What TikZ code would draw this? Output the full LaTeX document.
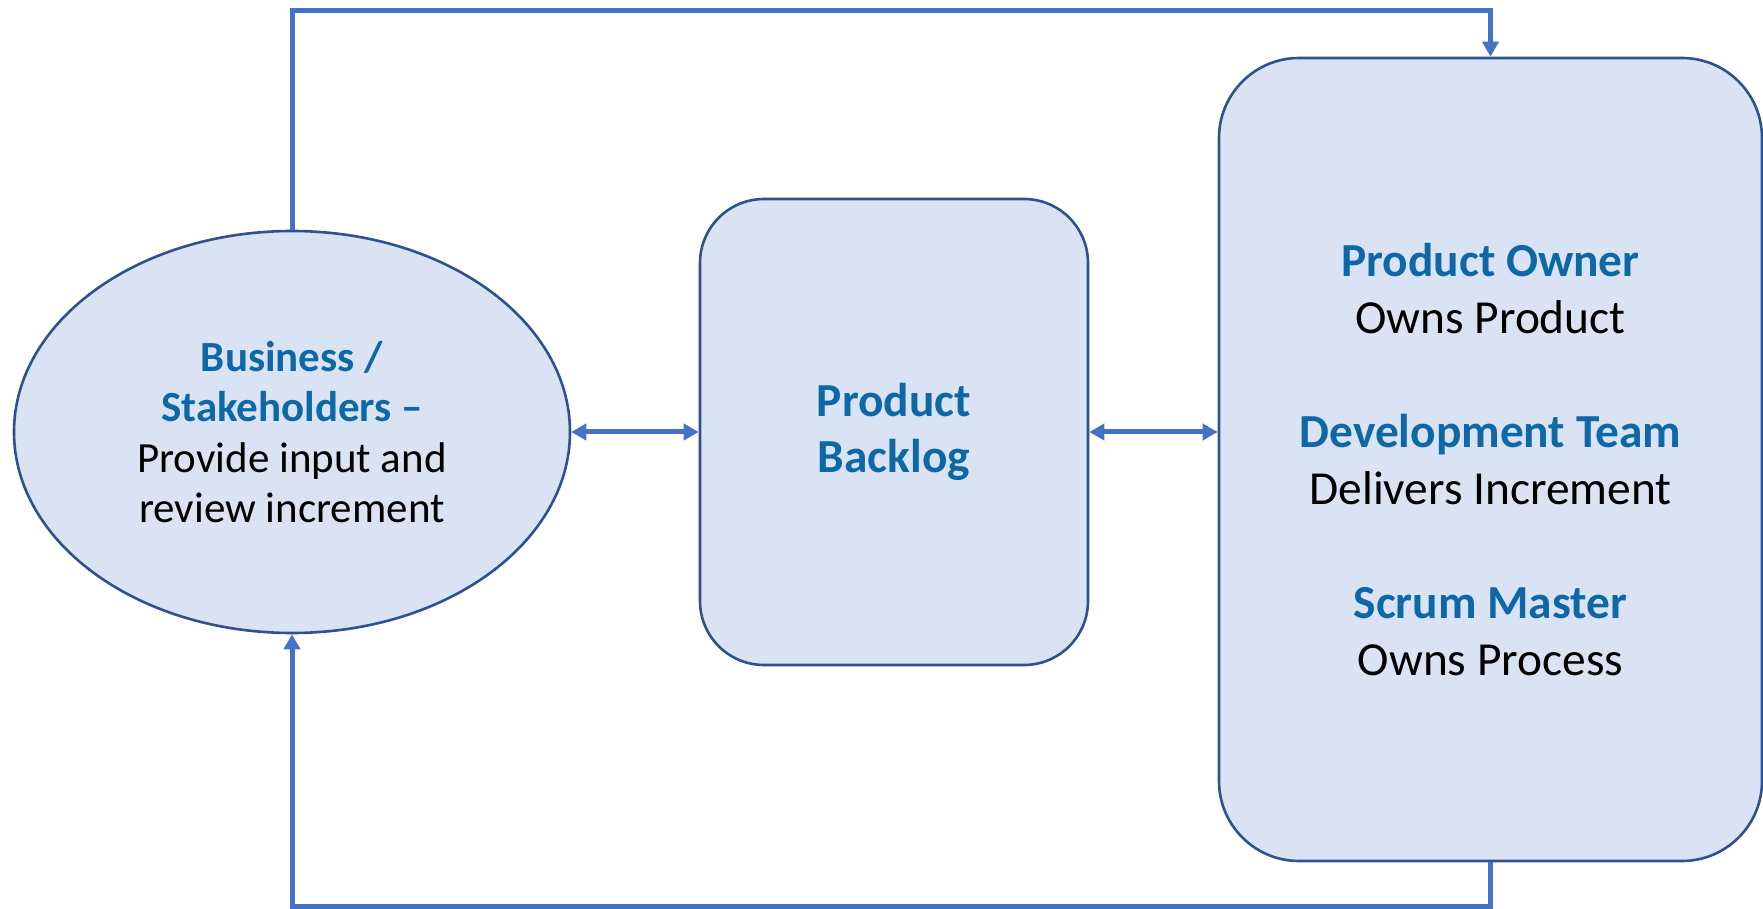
\documentclass[tikz,border=0pt]{standalone}
\usepackage{fontspec}
\setmainfont{Carlito}
\usetikzlibrary{shapes.geometric,arrows.meta}
\definecolor{boxfill}{HTML}{DAE3F3}
\definecolor{boxline}{HTML}{2F528F}
\definecolor{connblue}{HTML}{4472C4}
\definecolor{titleblue}{RGB}{14,104,166}
\tikzset{
  shapebox/.style={draw=boxline, fill=boxfill, line width=1.3pt, align=center, inner sep=0pt},
  conn/.style={draw=connblue, line width=2.5pt},
  tip/.style={-{Triangle[width=8pt,length=7.5pt]}},
  dtip/.style={{Triangle[width=8pt,length=7.5pt]}-{Triangle[width=8pt,length=7.5pt]}}
}
\newcommand{\ttlb}[1]{{\bfseries\color{titleblue}#1}}
\begin{document}
\begin{tikzpicture}[x=0.5pt,y=-0.5pt]
\useasboundingbox (0,0) rectangle (1763,909);
\node[shapebox, ellipse, minimum width=278pt, minimum height=201pt,
      font=\fontsize{21.5}{25.2}\selectfont] (ell) at (292,432)
  {\ttlb{Business /}\\ \ttlb{Stakeholders –}\\ Provide input and\\ review increment};
\node[shapebox, rectangle, rounded corners=32pt, minimum width=194pt, minimum height=233pt,
      font=\fontsize{23.7}{28}\selectfont] (pb) at (894,432)
  {\ttlb{Product}\\ \ttlb{Backlog}};
\node[shapebox, rectangle, rounded corners=40pt, minimum width=271.5pt, minimum height=401.5pt,
      font=\fontsize{23.7}{28.5}\selectfont] (team) at (1490.5,459.5)
  {\ttlb{Product Owner}\\ Owns Product\\[28.5pt] \ttlb{Development Team}\\ Delivers Increment\\[28.5pt] \ttlb{Scrum Master}\\ Owns Process};
\coordinate (topmid) at (891,10.5);
\coordinate (botmid) at (891,906);
\draw[conn, tip] (ell.north) |- (topmid) -| (team.north);
\draw[conn, tip] (team.south) |- (botmid) -| (ell.south);
\draw[conn, dtip] (ell.east) -- (pb.west);
\draw[conn, dtip] (pb.east) -- (pb.east -| team.west);
\end{tikzpicture}
\end{document}
